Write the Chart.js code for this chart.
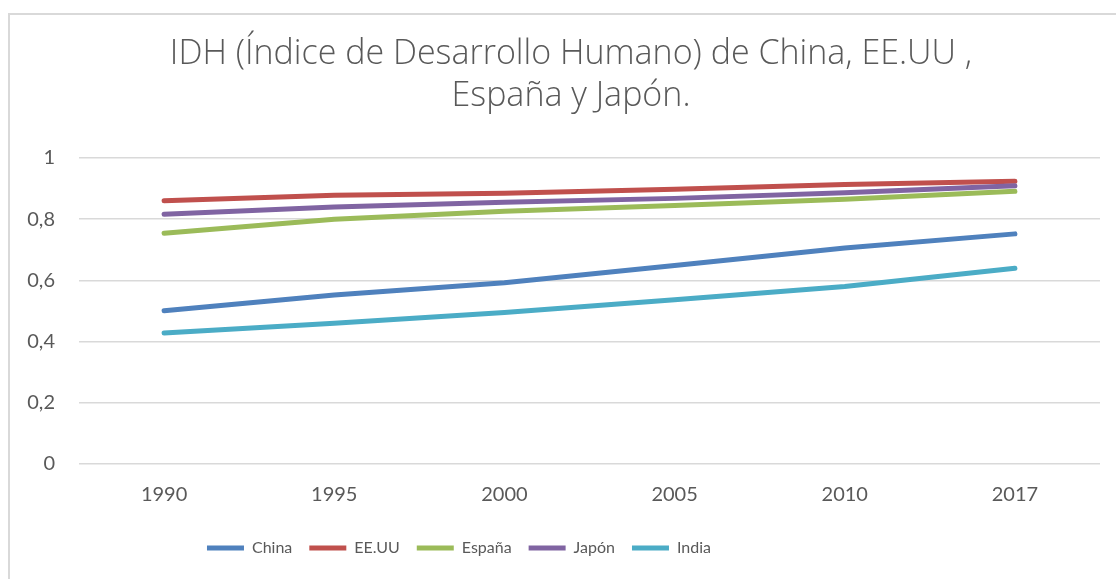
<!DOCTYPE html>
<html>
<head>
<meta charset="utf-8">
<script src="https://cdn.jsdelivr.net/npm/chart.js@4"></script>
<style>
html,body{margin:0;padding:0;background:#fff;overflow:hidden;}
#wrap{position:absolute;left:0;top:0;width:1140px;height:579px;}
</style>
</head>
<body>
<div id="wrap"><canvas id="c" width="1140" height="579"></canvas></div>
<script>
const categories = ['1990', '1995', '2000', '2005', '2010', '2017'];
const china  = [0.501, 0.552, 0.592, 0.649, 0.706, 0.752];
const eeuu   = [0.860, 0.878, 0.885, 0.898, 0.913, 0.924];
const espana = [0.754, 0.800, 0.826, 0.845, 0.865, 0.891];
const japon  = [0.816, 0.840, 0.855, 0.868, 0.886, 0.909];
const india  = [0.428, 0.460, 0.495, 0.537, 0.580, 0.640];
const seriesNames = ['China', 'EE.UU', 'España', 'Japón', 'India'];
const yTickLabels = ['0', '0,2', '0,4', '0,6', '0,8', '1'];
const titleLines = ['IDH (Índice de Desarrollo Humano) de China, EE.UU ,', 'España y Japón.'];

const colors = ['#4F81BD', '#C0504D', '#9BBB59', '#8064A2', '#4BACC6'];
const seriesData = [china, eeuu, espana, japon, india];
const FONT = 'Lato, "Open Sans", sans-serif';
const TITLE_FONT = '"Open Sans", Lato, sans-serif';

// horizontal offsets of the title and legend boxes relative to the default centring
const TITLE_SHIFT = 21;
const LEGEND_SHIFT = -91;

const borderPlugin = {
  id: 'outerBorder',
  beforeDraw(chart) {
    const ctx = chart.ctx;
    ctx.save();
    ctx.fillStyle = '#ffffff';
    ctx.fillRect(0, 0, chart.width, chart.height);
    ctx.strokeStyle = '#d9d9d9';
    ctx.lineWidth = 2;
    ctx.strokeRect(9, 14, 1122, 600);
    ctx.restore();
  }
};

const shiftPlugin = {
  id: 'shiftBoxes',
  afterLayout(chart) {
    if (chart.titleBlock) { chart.titleBlock.left += TITLE_SHIFT; chart.titleBlock.right += TITLE_SHIFT; }
    if (chart.legend) { chart.legend.left += LEGEND_SHIFT; chart.legend.right += LEGEND_SHIFT; }
  }
};

new Chart(document.getElementById('c'), {
  type: 'line',
  data: {
    labels: categories,
    datasets: seriesData.map((d, i) => ({
      label: seriesNames[i],
      data: d,
      borderColor: colors[i],
      backgroundColor: colors[i],
      borderWidth: 5,
      borderCapStyle: 'round',
      borderJoinStyle: 'round',
      pointRadius: 0,
      pointHoverRadius: 0,
      tension: 0,
      fill: false,
      order: seriesData.length - i
    }))
  },
  options: {
    responsive: false,
    animation: false,
    devicePixelRatio: 1,
    layout: { padding: { left: 0, right: 40, top: 0, bottom: 13 } },
    plugins: {
      title: {
        display: true,
        text: titleLines,
        color: '#595959',
        font: { family: TITLE_FONT, size: 34, weight: '300', lineHeight: 1.235 },
        padding: { top: 33, bottom: 41 }
      },
      legend: {
        position: 'bottom',
        labels: {
          color: '#595959',
          font: { family: FONT, size: 16 },
          usePointStyle: true,
          pointStyle: 'line',
          pointStyleWidth: 37,
          padding: 17,
          sort: (a, b) => a.datasetIndex - b.datasetIndex
        }
      },
      tooltip: { enabled: false }
    },
    scales: {
      x: {
        offset: true,
        grid: { display: false, drawTicks: false },
        border: { display: false },
        ticks: { color: '#595959', font: { family: FONT, size: 20 }, padding: 19, maxRotation: 0 },
        afterFit(scale) { scale.height = 59; }
      },
      y: {
        min: 0,
        max: 1,
        grid: { color: '#d9d9d9', lineWidth: 1.5, drawTicks: false },
        border: { display: false },
        ticks: {
          stepSize: 0.2,
          color: '#595959',
          font: { family: FONT, size: 20 },
          padding: 24,
          callback: (v, i) => yTickLabels[i]
        },
        afterFit(scale) { scale.width = 79; }
      }
    }
  },
  plugins: [borderPlugin, shiftPlugin]
});
</script>
</body>
</html>
